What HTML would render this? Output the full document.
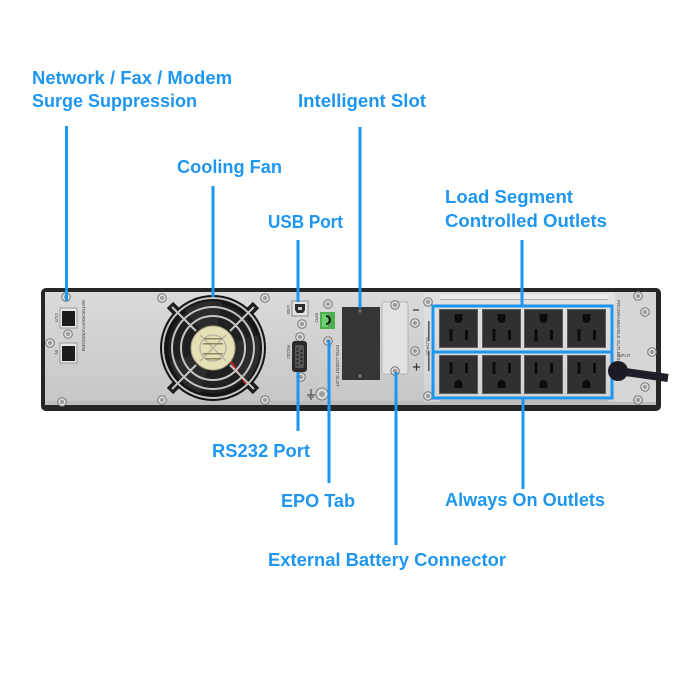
<!DOCTYPE html>
<html><head><meta charset="utf-8"><style>
html,body{margin:0;padding:0;background:#fff;}
svg{display:block}
text.l{font-family:"Liberation Sans",Arial,sans-serif;font-weight:bold;font-size:18px;fill:#1e96f0}
text.t{font-family:"Liberation Sans",Arial,sans-serif;font-size:4.5px;fill:#444}
</style></head><body>
<svg width="700" height="700" viewBox="0 0 700 700" xmlns="http://www.w3.org/2000/svg">
<defs>
<linearGradient id="pg" x1="0" y1="0" x2="0" y2="1">
<stop offset="0" stop-color="#dadada"/><stop offset="1" stop-color="#c6c6c6"/>
</linearGradient>
<linearGradient id="og" x1="0" y1="0" x2="0" y2="1">
<stop offset="0" stop-color="#e2e2e2"/><stop offset="1" stop-color="#d2d2d2"/>
</linearGradient>
<g id="sc"><circle r="4.3" fill="#dcdcdc" stroke="#777" stroke-width="1"/><circle r="2" fill="#9a9a9a"/></g>
<g id="oT"><rect x="0.5" y="0.5" width="38" height="38" fill="#303030" stroke="#5c5c5c"/><path d="M15.5 5 h8 v5 a4 4 0 0 1 -8 0z" fill="#0c0c0c"/><rect x="10.5" y="20" width="3" height="12" fill="#0c0c0c"/><rect x="26" y="21" width="3" height="10" fill="#0c0c0c"/></g>
<g id="oB"><rect x="0.5" y="0.5" width="38" height="38" fill="#303030" stroke="#5c5c5c"/><rect x="10.5" y="7" width="3" height="12" fill="#0c0c0c"/><rect x="26" y="8" width="3" height="10" fill="#0c0c0c"/><path d="M15.5 33 h8 v-4 a4 4 0 0 0 -8 0z" fill="#0c0c0c"/></g>
</defs>

<!-- device frame -->
<rect x="41" y="288" width="620" height="123" rx="5" fill="#262626"/>
<rect x="45" y="292" width="611" height="111" fill="url(#pg)"/>
<rect x="45" y="401" width="611" height="4" fill="#bdbdbd"/>
<!-- outlet region -->
<rect x="424" y="293" width="191" height="109" fill="url(#og)"/>
<rect x="440" y="295" width="168" height="4" fill="#ededed"/>
<rect x="440" y="299" width="168" height="1" fill="#b0b0b0"/>
<rect x="440" y="400" width="168" height="3" fill="#bcbcbc"/>
<rect x="615" y="293" width="41" height="109" fill="#d6d6d6"/>

<!-- left network ports -->
<rect x="60" y="308" width="17" height="20" fill="#e8e8e8" stroke="#888" stroke-width="0.8"/>
<rect x="62" y="311" width="13" height="15" fill="#1c1c1c"/>
<rect x="60" y="343" width="17" height="20" fill="#e8e8e8" stroke="#888" stroke-width="0.8"/>
<rect x="62" y="346" width="13" height="15" fill="#1c1c1c"/>
<text class="t" transform="translate(55,313) rotate(90)">OUT</text>
<text class="t" transform="translate(55,350) rotate(90)">IN</text>
<text class="t" transform="translate(82,300) rotate(90)">NETWORK/FAX/MODEM</text>
<use href="#sc" x="66" y="297"/>
<use href="#sc" x="68" y="334"/>
<use href="#sc" x="50" y="343"/>
<use href="#sc" x="62" y="402"/>

<!-- fan -->
<g>
<line x1="170" y1="305" x2="256" y2="391" stroke="#1d1d1d" stroke-width="9"/>
<line x1="256" y1="305" x2="170" y2="391" stroke="#1d1d1d" stroke-width="9"/>
<circle cx="213" cy="348" r="53" fill="#141414"/>
<circle cx="213" cy="348" r="45" fill="#202020"/>
<path d="M213 348 L185 310 A47 47 0 0 1 222 302 Z" fill="#2c2c2c"/>
<path d="M213 348 L258 335 A47 47 0 0 1 246 382 Z" fill="#2c2c2c"/>
<path d="M213 348 L200 393 A47 47 0 0 1 170 362 Z" fill="#2c2c2c"/>
<line x1="227" y1="356" x2="246" y2="384" stroke="#d02020" stroke-width="1.8"/>
<g fill="none" stroke="#c4c4c4" stroke-width="2">
<circle cx="213" cy="348" r="50"/>
<circle cx="213" cy="348" r="41"/>
<circle cx="213" cy="348" r="32"/>
<line x1="172" y1="307" x2="196" y2="331"/>
<line x1="254" y1="307" x2="230" y2="331"/>
<line x1="172" y1="389" x2="196" y2="365"/>
<line x1="254" y1="389" x2="230" y2="365"/>
</g>
<circle cx="213" cy="348" r="22" fill="#e5e1b4" stroke="#a9a68a" stroke-width="1"/>
<g fill="none" stroke="#b9b9a8" stroke-width="1.6">
<circle cx="213" cy="348" r="13"/>
<line x1="200" y1="335" x2="226" y2="361"/>
<line x1="226" y1="335" x2="200" y2="361"/>
</g>
<g fill="#8a8660"><rect x="204" y="338" width="18" height="1.5"/><rect x="203" y="343" width="20" height="1.5"/><rect x="203" y="353" width="20" height="1.5"/><rect x="205" y="358" width="16" height="1.5"/></g>
</g>
<use href="#sc" x="162" y="298"/>
<use href="#sc" x="265" y="298"/>
<use href="#sc" x="162" y="400"/>
<use href="#sc" x="265" y="400"/>

<!-- USB -->
<rect x="292" y="301" width="16" height="15" fill="#e4e4e4" stroke="#777" stroke-width="0.8"/>
<path d="M295 304 h10 v6 l-2 3 h-6 l-2 -3z" fill="#2a2a2a"/>
<rect x="298" y="307" width="4" height="3" fill="#cfcfcf"/>
<text class="t" transform="translate(287,305) rotate(90)">USB</text>
<use href="#sc" x="302" y="324"/>
<!-- RS232 -->
<use href="#sc" x="300" y="337"/>
<rect x="292" y="341" width="15" height="31" rx="3" fill="#2a2a2a"/>
<rect x="295" y="345" width="9" height="23" rx="2" fill="#555"/>
<g fill="#1a1a1a"><circle cx="297.5" cy="349" r="1"/><circle cx="297.5" cy="353" r="1"/><circle cx="297.5" cy="357" r="1"/><circle cx="297.5" cy="361" r="1"/><circle cx="297.5" cy="365" r="1"/><circle cx="301.5" cy="351" r="1"/><circle cx="301.5" cy="355" r="1"/><circle cx="301.5" cy="359" r="1"/><circle cx="301.5" cy="363" r="1"/></g>
<text class="t" transform="translate(287,345) rotate(90)">RS232</text>
<use href="#sc" x="301" y="377"/>
<!-- EPO -->
<use href="#sc" x="328" y="304"/>
<rect x="320" y="312" width="15" height="17" fill="#4caf50"/>
<rect x="322" y="314" width="6" height="13" fill="#6fd174"/>
<path d="M326 316 a4 4 0 0 1 0 8" fill="none" stroke="#1a1a1a" stroke-width="2"/>
<text class="t" transform="translate(315,313) rotate(90)">EPO</text>
<use href="#sc" x="328" y="341"/>
<text class="t" transform="translate(336,345) rotate(90)">INTELLIGENT SLOT</text>
<!-- ground -->
<circle cx="322" cy="394" r="6" fill="#dcdcdc" stroke="#777" stroke-width="1"/>
<circle cx="322" cy="394" r="3" fill="#a0a0a0"/>
<path d="M311 389 v6 M307 395 h8 M308.5 397 h5 M310 399 h2" stroke="#333" stroke-width="1" fill="none"/>

<!-- intelligent slot -->
<rect x="342" y="307" width="38" height="73" fill="#353535"/>
<circle cx="360" cy="311" r="1.6" fill="#777"/>
<circle cx="360" cy="376" r="1.6" fill="#777"/>

<!-- battery plate -->
<rect x="382" y="302" width="26" height="72" rx="2" fill="#e2e2e2" stroke="#aaa" stroke-width="0.8"/>
<use href="#sc" x="395" y="305"/>
<use href="#sc" x="395" y="371"/>
<use href="#sc" x="415" y="323"/>
<use href="#sc" x="415" y="351"/>
<path d="M413 310 h6" stroke="#333" stroke-width="1.2"/>
<path d="M413 367 h7 M416.5 363.5 v7" stroke="#333" stroke-width="1.2"/>
<rect x="428" y="321" width="1.5" height="20" fill="#555"/>
<rect x="428" y="351" width="1.5" height="20" fill="#555"/>
<text class="t" transform="translate(426,337) rotate(90)">OUTPUT</text>
<use href="#sc" x="428" y="302"/>
<use href="#sc" x="428" y="396"/>

<!-- outlets -->
<use href="#oT" x="439" y="309"/>
<use href="#oT" x="482" y="309"/>
<use href="#oT" x="524" y="309"/>
<use href="#oT" x="567" y="309"/>
<use href="#oB" x="439" y="355"/>
<use href="#oB" x="482" y="355"/>
<use href="#oB" x="524" y="355"/>
<use href="#oB" x="567" y="355"/>
<rect x="433" y="306" width="179" height="92" fill="none" stroke="#1e96f0" stroke-width="3"/>
<line x1="433" y1="352" x2="612" y2="352" stroke="#1e96f0" stroke-width="3"/>

<!-- right side -->
<text class="t" transform="translate(617,300) rotate(90)">PROGRAMMABLE OUTLETS</text>
<text class="t" x="617" y="357">INPUT</text>
<use href="#sc" x="638" y="296"/>
<use href="#sc" x="645" y="312"/>
<use href="#sc" x="652" y="352"/>
<use href="#sc" x="645" y="387"/>
<use href="#sc" x="638" y="400"/>
<path d="M618 371 L668 378" stroke="#1e1e28" stroke-width="8" fill="none"/>
<circle cx="618" cy="371" r="10" fill="#1b1b24"/>

<!-- connector lines -->
<g stroke="#1e96f0" stroke-width="3" fill="none">
<line x1="66.5" y1="126" x2="66.5" y2="301"/>
<line x1="213" y1="186" x2="213" y2="297"/>
<line x1="360" y1="127" x2="360" y2="308"/>
<line x1="298" y1="240" x2="298" y2="302"/>
<line x1="522" y1="240" x2="522" y2="306"/>
<line x1="298" y1="372" x2="298" y2="431"/>
<line x1="329" y1="340" x2="329" y2="483"/>
<line x1="396" y1="372" x2="396" y2="545"/>
<line x1="523" y1="398" x2="523" y2="489"/>
</g>

<!-- labels -->
<text class="l" x="32" y="84" textLength="200" lengthAdjust="spacingAndGlyphs">Network / Fax / Modem</text>
<text class="l" x="32" y="107" textLength="165" lengthAdjust="spacingAndGlyphs">Surge Suppression</text>
<text class="l" x="298" y="107" textLength="128" lengthAdjust="spacingAndGlyphs">Intelligent Slot</text>
<text class="l" x="177" y="173" textLength="105" lengthAdjust="spacingAndGlyphs">Cooling Fan</text>
<text class="l" x="445" y="203" textLength="128" lengthAdjust="spacingAndGlyphs">Load Segment</text>
<text class="l" x="445" y="227" textLength="162" lengthAdjust="spacingAndGlyphs">Controlled Outlets</text>
<text class="l" x="268" y="228" textLength="75" lengthAdjust="spacingAndGlyphs">USB Port</text>
<text class="l" x="212" y="457" textLength="98" lengthAdjust="spacingAndGlyphs">RS232 Port</text>
<text class="l" x="281" y="507" textLength="74" lengthAdjust="spacingAndGlyphs">EPO Tab</text>
<text class="l" x="445" y="506" textLength="160" lengthAdjust="spacingAndGlyphs">Always On Outlets</text>
<text class="l" x="268" y="566" textLength="238" lengthAdjust="spacingAndGlyphs">External Battery Connector</text>
</svg>
</body></html>
